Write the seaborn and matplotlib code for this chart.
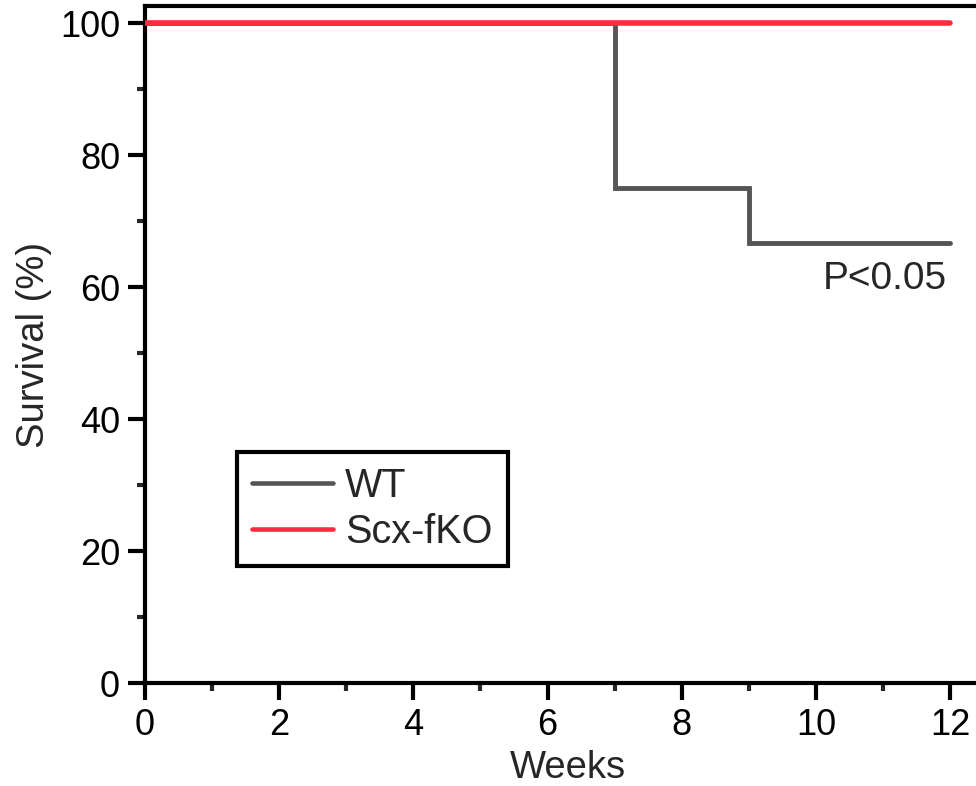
import matplotlib
matplotlib.use("Agg")
import matplotlib.pyplot as plt
from matplotlib.ticker import MultipleLocator
import seaborn as sns
import pandas as pd

# Kaplan-Meier step values (survival %, by week)
wt_weeks = [0, 7, 9, 12]
wt_survival = [100, 75, 66.7, 66.7]
ko_weeks = [0, 12]
ko_survival = [100, 100]
groups = ["WT", "Scx-fKO"]
colors = {"WT": "#555555", "Scx-fKO": "#FF2A3F"}

df = pd.concat([
    pd.DataFrame({"Weeks": wt_weeks, "Survival": wt_survival, "group": "WT"}),
    pd.DataFrame({"Weeks": ko_weeks, "Survival": ko_survival, "group": "Scx-fKO"}),
], ignore_index=True)

sns.set_theme(style="ticks")
plt.rcParams["font.family"] = ["Liberation Sans", "DejaVu Sans"]

fig = plt.figure(figsize=(9.76, 7.86), dpi=100)
ax = fig.add_axes([0.1486, 0.131, 0.866, 0.8614])

sns.lineplot(data=df, x="Weeks", y="Survival", hue="group", hue_order=groups,
             palette=colors, drawstyle="steps-post", linewidth=3.5,
             estimator=None, sort=False, ax=ax, legend=False)
for line, g in zip(ax.lines, groups):
    line.set_label(g)
    if g == "Scx-fKO":
        line.set_linewidth(4)
        line.set_zorder(5)
    line.set_solid_joinstyle("miter")

ax.set_xlim(0, 12.6)
ax.set_ylim(0, 102.6)
ax.xaxis.set_major_locator(MultipleLocator(2))
ax.xaxis.set_minor_locator(MultipleLocator(1))
ax.yaxis.set_major_locator(MultipleLocator(20))
ax.yaxis.set_minor_locator(MultipleLocator(10))

for s in ax.spines.values():
    s.set_linewidth(3)
    s.set_color("black")
ax.tick_params(which="major", length=12, width=3, labelsize=26, direction="out", pad=6, colors="black")
ax.tick_params(which="minor", length=6, width=3, direction="out")

ax.set_xlabel("Weeks", fontsize=27.5, labelpad=5)
ax.set_ylabel("Survival (%)", fontsize=27.5, labelpad=6)

ax.text(11.95, 61.3, "P<0.05", fontsize=28, ha="right", va="center")

leg = ax.legend(loc="upper left", bbox_to_anchor=(0.109, 0.341), borderaxespad=0,
                fontsize=28.5, frameon=True, fancybox=False, edgecolor="black",
                framealpha=1, handlelength=2.05, handletextpad=0.3,
                borderpad=0.38, labelspacing=0.2)
leg.get_frame().set_linewidth(3)
for h in leg.get_lines():
    h.set_linewidth(3.3)

fig.savefig("out.png", dpi=100)
